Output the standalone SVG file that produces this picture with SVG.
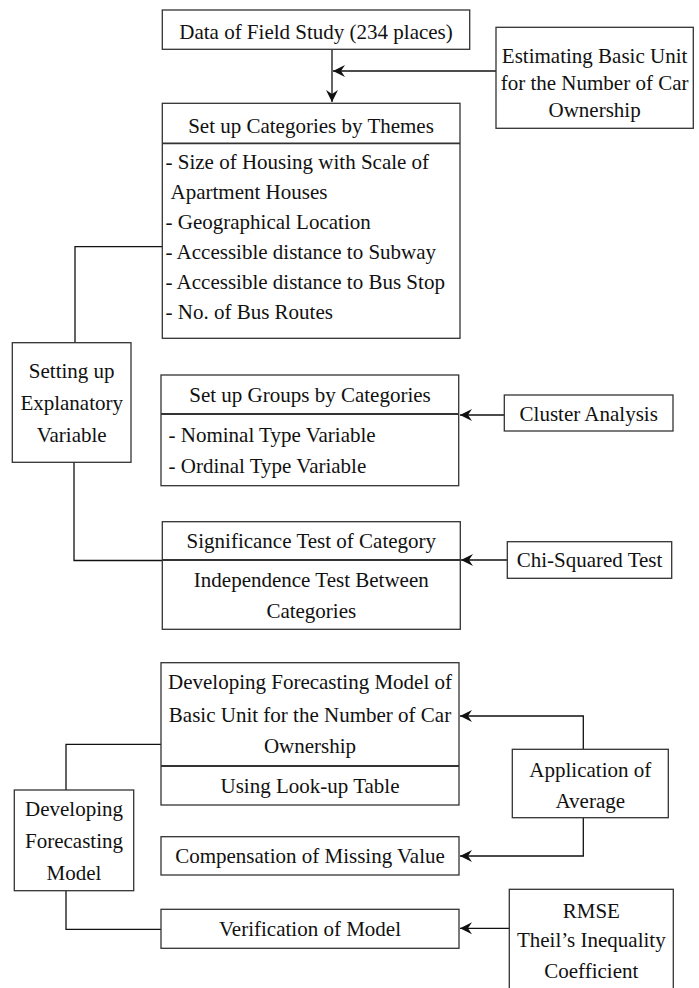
<svg xmlns="http://www.w3.org/2000/svg" width="699" height="988" viewBox="0 0 699 988">
<style>
.box{fill:#fff;stroke:#333;stroke-width:1.3}
.div{stroke:#333;stroke-width:1.8}
.t{font-family:'Liberation Serif','DejaVu Serif',serif;font-size:21px;fill:#111}
.c{text-anchor:middle}
.ln{fill:none;stroke:#111;stroke-width:1.3}
</style>
<defs>
<marker id="ah" viewBox="0 0 14 14" refX="13" refY="7" markerWidth="14" markerHeight="14" markerUnits="userSpaceOnUse" orient="auto">
<path d="M13,7 L1,1 L5,7 L1,13 Z" fill="#111"/>
</marker>
</defs>
<rect width="699" height="988" fill="#fff"/>
<g id="connectors">
<line class="ln" x1="332" y1="49.5" x2="332" y2="102" marker-end="url(#ah)"/>
<line class="ln" x1="496" y1="71" x2="333" y2="71" marker-end="url(#ah)"/>
<polyline class="ln" points="162.5,246.7 75,246.7 75,342.7"/>
<polyline class="ln" points="74,462.3 74,560.5 215,560.5"/>
<line class="ln" x1="504.3" y1="415" x2="460" y2="415" marker-end="url(#ah)"/>
<line class="ln" x1="507.3" y1="560" x2="461" y2="560" marker-end="url(#ah)"/>
<polyline class="ln" points="161,744.3 66,744.3 66,790"/>
<polyline class="ln" points="66,890.7 66,929.3 161,929.3"/>
<polyline class="ln" points="583.3,749.3 583.3,716 460,716" marker-end="url(#ah)"/>
<polyline class="ln" points="583.3,817.7 583.3,856 460,856" marker-end="url(#ah)"/>
<line class="ln" x1="509.3" y1="928.3" x2="460" y2="928.3" marker-end="url(#ah)"/>
</g>
<g id="data">
<rect class="box" x="162.3" y="10" width="307.4" height="39.3"/>
<text class="t c" font-family="Liberation Serif, serif" x="316" y="38.5">Data of Field Study (234 places)</text>
</g>
<g id="estimating">
<rect class="box" x="496" y="27.3" width="197.3" height="101"/>
<text class="t c" x="594.6" y="63.3">Estimating Basic Unit</text>
<text class="t c" x="594.6" y="90">for the Number of Car</text>
<text class="t c" x="594.6" y="116.7">Ownership</text>
</g>
<g id="categories">
<rect class="box" x="162.3" y="103.3" width="297.7" height="235"/>
<line class="div" x1="162.3" y1="143.3" x2="460" y2="143.3"/>
<text class="t c" x="311" y="132.7">Set up Categories by Themes</text>
<text class="t" x="165.5" y="169.3">- Size of Housing with Scale of</text>
<text class="t" x="170.5" y="199.3"> Apartment Houses</text>
<text class="t" x="165.5" y="229.3">- Geographical Location</text>
<text class="t" x="165.5" y="259.3">- Accessible distance to Subway</text>
<text class="t" x="165.5" y="289.3">- Accessible distance to Bus Stop</text>
<text class="t" x="165.5" y="319.3">- No. of Bus Routes</text>
</g>
<g id="setting">
<rect class="box" x="12.3" y="342.7" width="118.7" height="119.6"/>
<text class="t c" x="71.7" y="378.3">Setting up</text>
<text class="t c" x="71.7" y="410">Explanatory</text>
<text class="t c" x="71.7" y="441.7">Variable</text>
</g>
<g id="groups">
<rect class="box" x="161" y="375" width="297.7" height="110.7"/>
<line class="div" x1="161" y1="414" x2="458.7" y2="414"/>
<text class="t c" x="310" y="401.7">Set up Groups by Categories</text>
<text class="t" x="168.5" y="441.7">- Nominal Type Variable</text>
<text class="t" x="168.5" y="472.7">- Ordinal Type Variable</text>
</g>
<g id="cluster">
<rect class="box" x="504.3" y="395" width="168.7" height="36"/>
<text class="t c" x="588.7" y="420.7">Cluster Analysis</text>
</g>
<g id="significance">
<rect class="box" x="162.3" y="521.7" width="298" height="107.6"/>
<line class="div" x1="162.3" y1="560" x2="460.3" y2="560"/>
<text class="t c" x="311.3" y="548.3">Significance Test of Category</text>
<text class="t c" x="311.3" y="586.7">Independence Test Between</text>
<text class="t c" x="311.3" y="618.3">Categories</text>
</g>
<g id="chisquared">
<rect class="box" x="507.3" y="541.7" width="164.4" height="36.6"/>
<text class="t c" x="589.5" y="567.3">Chi-Squared Test</text>
</g>
<g id="forecastmodel">
<rect class="box" x="161" y="662.7" width="298" height="142.3"/>
<line class="div" x1="161" y1="766" x2="459" y2="766"/>
<text class="t c" x="310" y="689.3">Developing Forecasting Model of</text>
<text class="t c" x="310" y="721.7">Basic Unit for the Number of Car</text>
<text class="t c" x="310" y="753.3">Ownership</text>
<text class="t c" x="310" y="792.7">Using Look-up Table</text>
</g>
<g id="developing">
<rect class="box" x="14.3" y="790" width="119.4" height="100.7"/>
<text class="t c" x="74" y="816">Developing</text>
<text class="t c" x="74" y="848.3">Forecasting</text>
<text class="t c" x="74" y="880">Model</text>
</g>
<g id="application">
<rect class="box" x="512.3" y="749.3" width="156" height="68.4"/>
<text class="t c" x="590.3" y="776.7">Application of</text>
<text class="t c" x="590.3" y="807.7">Average</text>
</g>
<g id="compensation">
<rect class="box" x="161" y="836.7" width="298" height="38.3"/>
<text class="t c" x="310" y="863.3">Compensation of Missing Value</text>
</g>
<g id="verification">
<rect class="box" x="161" y="909.3" width="298" height="39"/>
<text class="t c" x="310" y="936">Verification of Model</text>
</g>
<g id="rmse">
<rect class="box" x="509.3" y="889.3" width="164" height="110"/>
<text class="t c" x="591.3" y="918.3">RMSE</text>
<text class="t c" x="591.3" y="946.7">Theil’s Inequality</text>
<text class="t c" x="591.3" y="978.3">Coefficient</text>
</g>
</svg>
